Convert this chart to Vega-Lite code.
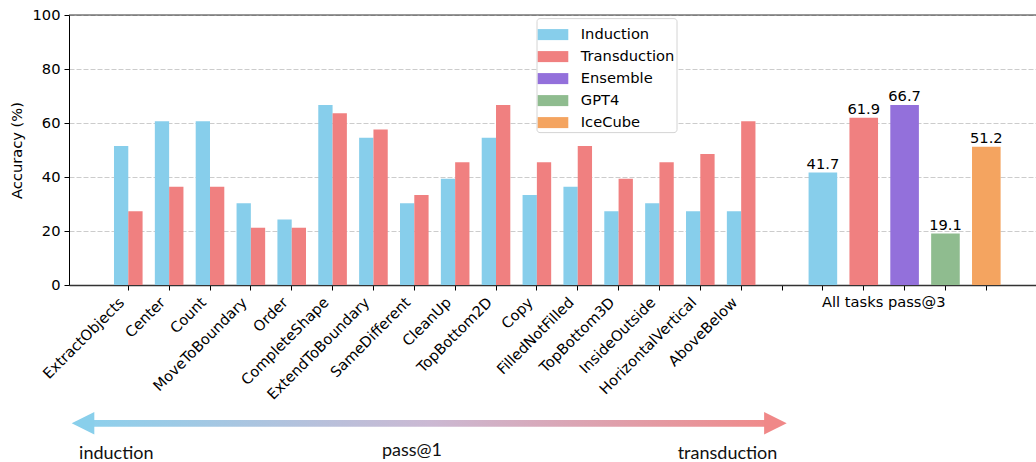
{
  "$schema": "https://vega.github.io/schema/vega-lite/v6.json",
  "autosize": {"type": "none"},
  "padding": {"left": 69, "top": 15, "right": 0, "bottom": 177},
  "width": 967,
  "height": 270,
  "background": "white",
  "config": {
    "font": "DejaVu Sans",
    "view": {"stroke": null},
    "axis": {
      "labelFont": "DejaVu Sans",
      "labelFontSize": 14.67,
      "labelColor": "black",
      "titleFont": "DejaVu Sans",
      "titleFontSize": 14.67,
      "titleFontWeight": "normal",
      "titleColor": "black",
      "tickColor": "black",
      "domainColor": "black"
    }
  },
  "datasets": {
    "pass1": [
      {"task": "ExtractObjects", "model": "Induction", "accuracy": 51.52},
      {"task": "ExtractObjects", "model": "Transduction", "accuracy": 27.27},
      {"task": "Center", "model": "Induction", "accuracy": 60.61},
      {"task": "Center", "model": "Transduction", "accuracy": 36.36},
      {"task": "Count", "model": "Induction", "accuracy": 60.61},
      {"task": "Count", "model": "Transduction", "accuracy": 36.36},
      {"task": "MoveToBoundary", "model": "Induction", "accuracy": 30.30},
      {"task": "MoveToBoundary", "model": "Transduction", "accuracy": 21.21},
      {"task": "Order", "model": "Induction", "accuracy": 24.24},
      {"task": "Order", "model": "Transduction", "accuracy": 21.21},
      {"task": "CompleteShape", "model": "Induction", "accuracy": 66.67},
      {"task": "CompleteShape", "model": "Transduction", "accuracy": 63.64},
      {"task": "ExtendToBoundary", "model": "Induction", "accuracy": 54.55},
      {"task": "ExtendToBoundary", "model": "Transduction", "accuracy": 57.58},
      {"task": "SameDifferent", "model": "Induction", "accuracy": 30.30},
      {"task": "SameDifferent", "model": "Transduction", "accuracy": 33.33},
      {"task": "CleanUp", "model": "Induction", "accuracy": 39.39},
      {"task": "CleanUp", "model": "Transduction", "accuracy": 45.45},
      {"task": "TopBottom2D", "model": "Induction", "accuracy": 54.55},
      {"task": "TopBottom2D", "model": "Transduction", "accuracy": 66.67},
      {"task": "Copy", "model": "Induction", "accuracy": 33.33},
      {"task": "Copy", "model": "Transduction", "accuracy": 45.45},
      {"task": "FilledNotFilled", "model": "Induction", "accuracy": 36.36},
      {"task": "FilledNotFilled", "model": "Transduction", "accuracy": 51.52},
      {"task": "TopBottom3D", "model": "Induction", "accuracy": 27.27},
      {"task": "TopBottom3D", "model": "Transduction", "accuracy": 39.39},
      {"task": "InsideOutside", "model": "Induction", "accuracy": 30.30},
      {"task": "InsideOutside", "model": "Transduction", "accuracy": 45.45},
      {"task": "HorizontalVertical", "model": "Induction", "accuracy": 27.27},
      {"task": "HorizontalVertical", "model": "Transduction", "accuracy": 48.48},
      {"task": "AboveBelow", "model": "Induction", "accuracy": 27.27},
      {"task": "AboveBelow", "model": "Transduction", "accuracy": 60.61}
    ],
    "pass3": [
      {"task": "All tasks pass@3", "model": "Induction", "accuracy": 41.7},
      {"task": "All tasks pass@3", "model": "Transduction", "accuracy": 61.9},
      {"task": "All tasks pass@3", "model": "Ensemble", "accuracy": 66.7},
      {"task": "All tasks pass@3", "model": "GPT4", "accuracy": 19.1},
      {"task": "All tasks pass@3", "model": "IceCube", "accuracy": 51.2}
    ]
  },
  "layer": [
    {
      "layer": [
        {
          "data": {"name": "pass1"},
          "mark": {"type": "bar"},
          "encoding": {
            "x": {
              "field": "task", "type": "nominal",
              "scale": {"type": "band", "domain": ["ExtractObjects", "Center", "Count", "MoveToBoundary", "Order", "CompleteShape", "ExtendToBoundary", "SameDifferent", "CleanUp", "TopBottom2D", "Copy", "FilledNotFilled", "TopBottom3D", "InsideOutside", "HorizontalVertical", "AboveBelow", " ", "Induction", "Transduction", "Ensemble", "GPT4", "IceCube"], "paddingInner": 0, "paddingOuter": 0.8335, "align": 0.5705, "round": false},
              "axis": {
                "title": null,
                "grid": false,
                "bandPosition": 0.5,
                "labelOverlap": false,
                "labelExpr": "indexof(['Induction','Transduction','GPT4','IceCube'], datum.value) >= 0 ? '' : (datum.value === 'Ensemble' ? 'All tasks pass@3' : datum.label)",
                "labelAngle": {"expr": "datum.value === 'Ensemble' ? 0 : -45"},
                "labelAlign": {"condition": {"test": "datum.value === 'Ensemble'", "value": "center"}, "value": "right"},
                "labelBaseline": "top",
                "labelPadding": 4.5,
                "labelOffset": {"condition": {"test": "datum.value === 'Ensemble'", "value": -20.9}, "value": -11.5},
                "tickSize": 5,
                "domainColor": "#333333",
                "domainWidth": 1.3
              }
            },
            "xOffset": {"field": "model", "type": "nominal", "scale": {"type": "band", "domain": ["Induction", "Transduction"], "paddingInner": 0, "paddingOuter": 0.4286}},
            "y": {
              "field": "accuracy", "type": "quantitative",
              "scale": {"domain": [0, 100], "nice": false},
              "axis": {"title": "Accuracy (%)", "values": [0, 20, 40, 60, 80, 100], "tickSize": 5, "labelPadding": 4, "titlePadding": 8, "grid": true, "gridDash": [5, 2], "gridColor": "#cccccc", "gridWidth": 1, "domainColor": "black", "domainWidth": 1}
            },
            "color": {
              "field": "model", "type": "nominal",
              "scale": {"domain": ["Induction", "Transduction", "Ensemble", "GPT4", "IceCube"], "range": ["#87CEEB", "#F08080", "#9370DB", "#8FBC8F", "#F4A460"]},
              "legend": {"title": null, "orient": "none", "legendX": 467.5, "legendY": 3.1, "direction": "vertical", "padding": 2, "strokeColor": "#d4d4d4", "fillColor": "white", "cornerRadius": 3, "symbolType": "M-1.055,-0.38L1.055,-0.38L1.055,0.38L-1.055,0.38Z", "symbolSize": 841, "symbolStrokeWidth": 0, "symbolOpacity": 1, "labelFontSize": 14.67, "labelFont": "DejaVu Sans", "labelColor": "black", "labelOffset": 13.3, "rowPadding": 0}
            }
          }
        },
        {
          "data": {"name": "pass3"},
          "mark": {"type": "bar", "width": {"band": 0.7}},
          "encoding": {
            "x": {"field": "model", "type": "nominal", "scale": {"type": "band", "domain": ["ExtractObjects", "Center", "Count", "MoveToBoundary", "Order", "CompleteShape", "ExtendToBoundary", "SameDifferent", "CleanUp", "TopBottom2D", "Copy", "FilledNotFilled", "TopBottom3D", "InsideOutside", "HorizontalVertical", "AboveBelow", " ", "Induction", "Transduction", "Ensemble", "GPT4", "IceCube"], "paddingInner": 0, "paddingOuter": 0.8335, "align": 0.5705, "round": false}},
            "y": {"field": "accuracy", "type": "quantitative"},
            "color": {"field": "model", "type": "nominal"}
          }
        },
        {
          "data": {"name": "pass3"},
          "mark": {"type": "text", "baseline": "alphabetic", "dy": -3.5, "fontSize": 14.67, "font": "DejaVu Sans", "color": "black"},
          "encoding": {
            "x": {"field": "model", "type": "nominal", "scale": {"type": "band", "domain": ["ExtractObjects", "Center", "Count", "MoveToBoundary", "Order", "CompleteShape", "ExtendToBoundary", "SameDifferent", "CleanUp", "TopBottom2D", "Copy", "FilledNotFilled", "TopBottom3D", "InsideOutside", "HorizontalVertical", "AboveBelow", " ", "Induction", "Transduction", "Ensemble", "GPT4", "IceCube"], "paddingInner": 0, "paddingOuter": 0.8335, "align": 0.5705, "round": false}},
            "y": {"field": "accuracy", "type": "quantitative"},
            "text": {"field": "accuracy", "type": "quantitative", "format": ".1f"}
          }
        },
        {
          "data": {"values": [{}]},
          "mark": {"type": "rule", "color": "#333333", "strokeWidth": 1.2},
          "encoding": {"y": {"datum": 100}}
        }
      ]
    },
    {
      "layer": [
        {
          "data": {"values": [{}]},
          "mark": {"type": "rect", "color": {"gradient": "linear", "stops": [{"offset": 0, "color": "#8DD0EC"}, {"offset": 0.5, "color": "#CBB9D3"}, {"offset": 1, "color": "#F08A8A"}]}},
          "encoding": {
            "x": {"datum": 0.0197, "type": "quantitative", "scale": {"domain": [0, 1], "nice": false}, "axis": null},
            "x2": {"datum": 0.7249},
            "y": {"datum": -50.0, "type": "quantitative", "scale": {"domain": [0, 100], "nice": false}, "axis": null},
            "y2": {"datum": -52.48}
          }
        },
        {
          "data": {"values": [{}]},
          "mark": {"type": "point", "shape": "M-1,0L1,-1L1,1Z", "size": 511, "filled": true, "opacity": 1, "strokeWidth": 0, "color": "#89CFEB"},
          "encoding": {
            "x": {"datum": 0.01448, "type": "quantitative"},
            "y": {"datum": -51.22, "type": "quantitative"}
          }
        },
        {
          "data": {"values": [{}]},
          "mark": {"type": "point", "shape": "M1,0L-1,-1L-1,1Z", "size": 511, "filled": true, "opacity": 1, "strokeWidth": 0, "color": "#F08888"},
          "encoding": {
            "x": {"datum": 0.73051, "type": "quantitative"},
            "y": {"datum": -51.22, "type": "quantitative"}
          }
        },
        {
          "data": {"values": [{}]},
          "mark": {"type": "text", "text": "induction", "font": "Lato", "fontSize": 18, "color": "#111111", "align": "center", "baseline": "alphabetic"},
          "encoding": {
            "x": {"datum": 0.04891, "type": "quantitative"},
            "y": {"datum": -64.26, "type": "quantitative"}
          }
        },
        {
          "data": {"values": [{}]},
          "mark": {"type": "text", "text": "pass@1", "font": "Lato", "fontSize": 18, "color": "#111111", "align": "center", "baseline": "alphabetic"},
          "encoding": {
            "x": {"datum": 0.35471, "type": "quantitative"},
            "y": {"datum": -63.5, "type": "quantitative"}
          }
        },
        {
          "data": {"values": [{}]},
          "mark": {"type": "text", "text": "transduction", "font": "Lato", "fontSize": 18, "color": "#111111", "align": "center", "baseline": "alphabetic"},
          "encoding": {
            "x": {"datum": 0.68097, "type": "quantitative"},
            "y": {"datum": -64.26, "type": "quantitative"}
          }
        }
      ]
    }
  ],
  "resolve": {"scale": {"x": "independent", "y": "independent"}}
}
